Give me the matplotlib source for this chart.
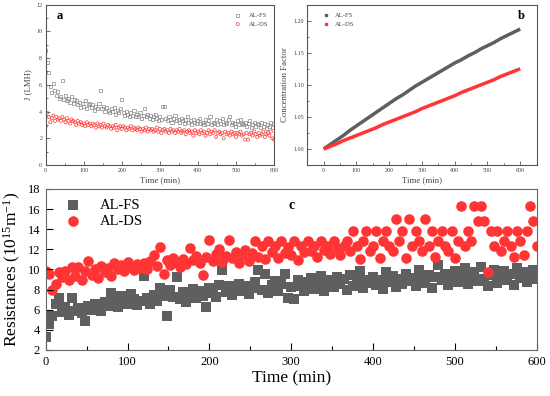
import numpy as np
import matplotlib
matplotlib.use("Agg")
import matplotlib.pyplot as plt
from matplotlib.ticker import MultipleLocator, FormatStrFormatter
from matplotlib.lines import Line2D

plt.rcParams['font.family'] = ['Liberation Serif']
plt.rcParams['mathtext.fontset'] = 'custom'
plt.rcParams['mathtext.rm'] = 'Liberation Serif'
plt.rcParams['mathtext.it'] = 'Liberation Serif:italic'

# time grid (min)
t = np.arange(0, 601, 4)

# (a) flux J (LMH)
j_fs = [8.6, 7.7, 6.9, 5.9, 5.4, 6.1, 5.6, 5.2, 5.5, 5.0,
        5.1, 6.3, 4.9, 5.2, 4.8, 5.0, 4.7, 5.1, 4.6, 4.9,
        4.8, 4.5, 4.7, 4.3, 4.6, 4.4, 4.8, 4.2, 4.5, 4.6,
        4.3, 4.5, 4.1, 4.4, 4.2, 4.6, 5.6, 4.2, 4.4, 4.0,
        4.3, 4.1, 3.9, 4.2, 4.0, 4.3, 3.8, 4.1, 3.9, 4.2,
        4.9, 3.9, 3.7, 4.0, 3.8, 3.6, 3.9, 3.7, 4.1, 3.6,
        3.8, 3.6, 3.9, 3.5, 3.7, 4.2, 3.6, 3.8, 3.5, 3.7,
        3.4, 3.6, 3.8, 3.5, 3.3, 3.6, 3.4, 4.4, 4.4, 3.5,
        3.3, 3.6, 3.4, 3.2, 3.5, 3.7, 3.3, 3.4, 3.2, 3.5,
        3.3, 3.1, 3.4, 3.6, 3.2, 3.3, 3.0, 3.4, 3.2, 3.1,
        3.3, 3.5, 3.1, 3.2, 3.0, 3.4, 3.1, 3.3, 3.6, 3.0,
        3.2, 3.1, 3.4, 3.0, 3.3, 3.1, 3.5, 3.0, 3.2, 3.1,
        3.4, 3.6, 3.0, 3.2, 3.1, 2.9, 3.3, 3.0, 3.4, 3.1,
        3.0, 3.2, 2.9, 3.1, 3.3, 2.8, 3.0, 3.2, 2.9, 3.1,
        3.0, 2.8, 3.2, 2.9, 3.1, 2.7, 3.0, 2.9, 3.2, 2.8,
        3.1]
j_ds = [2.9, 3.9, 3.6, 3.2, 3.5, 3.7, 3.3, 3.6, 3.4, 3.5,
        3.3, 3.6, 3.4, 3.2, 3.5, 3.3, 3.1, 3.4, 3.3, 3.2,
        3.0, 3.3, 3.1, 3.2, 3.0, 3.1, 2.9, 3.2, 3.0, 3.1,
        2.9, 3.1, 3.0, 2.8, 3.1, 2.9, 3.0, 2.8, 3.1, 2.9,
        2.8, 3.0, 2.9, 2.7, 2.9, 2.8, 3.0, 2.6, 2.8, 2.9,
        2.7, 2.9, 2.8, 2.6, 2.8, 2.7, 2.9, 2.6, 2.8, 2.7,
        2.6, 2.8, 2.7, 2.5, 2.7, 2.6, 2.8, 2.5, 2.7, 2.6,
        2.7, 2.5, 2.6, 2.8, 2.5, 2.7, 2.4, 2.6, 2.7, 2.5,
        2.6, 2.4, 2.7, 2.5, 2.6, 2.4, 2.6, 2.5, 2.7, 2.4,
        2.5, 2.6, 2.3, 2.5, 2.6, 2.4, 2.5, 2.2, 2.6, 2.4,
        2.5, 2.3, 2.6, 2.4, 2.5, 2.2, 2.4, 2.6, 2.3, 2.5,
        2.4, 2.6, 2.1, 2.4, 2.5, 2.3, 2.4, 2.0, 2.5, 2.3,
        2.4, 2.2, 2.5, 2.3, 2.4, 2.1, 2.4, 2.3, 2.5, 2.2,
        2.3, 1.9, 2.4, 1.9, 2.3, 2.4, 2.2, 2.5, 2.3, 2.1,
        2.4, 2.2, 2.3, 2.5, 2.1, 2.3, 2.4, 2.2, 2.5, 2.0,
        1.9]

# (b) concentration factor, every 20 min
t_cf = np.arange(0, 601, 20)
cf_fs = [1.000, 1.007, 1.014, 1.021, 1.029, 1.036, 1.043, 1.050, 1.057, 1.064,
         1.071, 1.078, 1.084, 1.091, 1.098, 1.104, 1.110, 1.116, 1.122, 1.128,
         1.134, 1.139, 1.145, 1.150, 1.156, 1.161, 1.166, 1.172, 1.177, 1.182,
         1.187]
cf_ds = [1.000, 1.004, 1.008, 1.013, 1.017, 1.021, 1.025, 1.029, 1.033, 1.038,
         1.042, 1.046, 1.050, 1.054, 1.058, 1.063, 1.067, 1.071, 1.075, 1.079,
         1.083, 1.088, 1.092, 1.096, 1.100, 1.104, 1.108, 1.113, 1.117, 1.121,
         1.125]

# (c) resistances (1e15 m^-1)
r_fs = [3.3, 4.6, 5.4, 6.6, 7.2, 5.8, 6.3, 5.5, 7.2, 5.9,
        6.2, 5.7, 4.9, 6.4, 6.0, 6.6, 6.3, 5.9, 6.8, 6.4,
        7.7, 6.9, 6.3, 7.4, 7.0, 6.6, 7.6, 7.1, 6.5, 6.9,
        9.4, 7.2, 6.6, 7.5, 6.9, 8.2, 7.4, 5.4, 8.0, 7.3,
        9.3, 7.1, 7.8, 6.8, 7.5, 8.1, 7.2, 7.9, 7.4, 6.3,
        8.2, 7.7, 7.3, 8.5, 9.9, 7.8, 8.4, 7.5, 8.1, 8.6,
        7.9, 8.4, 7.6, 8.2, 8.8, 9.9, 8.0, 9.6, 7.7, 8.5,
        8.9, 7.9, 8.6, 9.6, 7.2, 8.3, 7.1, 9.0, 8.4, 7.9,
        8.8, 9.2, 8.1, 8.7, 9.4, 7.9, 8.5, 9.0, 8.3, 9.3,
        8.6, 9.1, 8.0, 9.5, 8.4, 8.9, 9.8, 8.2, 9.0, 8.7,
        9.3, 8.5, 9.0, 8.1, 9.7, 8.8, 9.4, 8.3, 9.1, 8.6,
        9.6, 8.9, 9.2, 8.4, 9.9, 9.0, 8.7, 9.5, 8.2, 9.3,
        10.4, 9.0, 9.6, 8.5, 9.2, 9.8, 8.8, 9.4, 10.1, 8.6,
        9.3, 9.7, 8.9, 10.2, 9.1, 8.4, 9.5, 9.9, 8.7, 9.4,
        9.8, 9.0, 9.6, 8.5, 10.1, 9.2, 9.7, 8.8, 9.4, 9.9,
        9.1]
r_ds = [9.8, 9.6, 8.0, 8.6, 9.7, 9.3, 9.8, 9.0, 10.2, 9.4,
        10.2, 9.0, 9.8, 10.8, 9.5, 10.0, 9.2, 10.3, 9.7, 10.1,
        9.4, 10.6, 10.0, 10.4, 9.8, 10.7, 10.2, 9.9, 10.5, 10.1,
        10.6, 10.0, 10.8, 11.4, 10.3, 12.2, 9.6, 10.9, 10.4, 11.1,
        10.7, 10.2, 11.0, 10.5, 12.1, 10.9, 11.3, 10.6, 9.5, 11.2,
        12.9, 10.8, 11.5, 12.0, 10.7, 11.3, 12.9, 11.1, 11.7, 10.6,
        11.4, 11.9, 10.8, 11.6, 12.8, 11.2, 12.3, 11.0, 12.8, 11.7,
        12.3, 11.1, 12.8, 11.6, 12.2, 11.4, 12.8, 10.9, 12.3, 11.7,
        12.8, 11.8, 12.3, 11.2, 12.8, 11.9, 12.3, 11.5, 12.8, 12.1,
        11.4, 12.3, 12.8, 11.8, 13.8, 12.3, 11.0, 12.8, 13.8, 11.8,
        12.3, 13.8, 11.1, 12.8, 13.8, 12.3, 11.8, 15.0, 12.8, 13.8,
        11.1, 15.0, 12.3, 13.8, 12.8, 11.8, 15.0, 12.3, 13.8, 11.2,
        12.8, 13.8, 12.3, 11.8, 13.8, 11.1, 12.8, 16.3, 12.3, 13.8,
        12.8, 16.3, 14.8, 16.3, 14.8, 9.7, 13.8, 12.3, 13.8, 11.8,
        12.8, 13.8, 12.3, 11.2, 13.8, 12.8, 11.4, 13.8, 16.3, 14.8,
        12.3]

GRAY = '#5f5f5f'
RED = '#ff3535'
SMALL = 4.3
TXT = '#444444'

fig = plt.figure(figsize=(5.5, 3.96), dpi=100)
ax_a = fig.add_axes([0.0831, 0.5833, 0.415, 0.405])
ax_b = fig.add_axes([0.5587, 0.5833, 0.417, 0.405])
ax_c = fig.add_axes([0.0831, 0.1162, 0.8927, 0.4066])

# panel a
ax_a.scatter(t, j_fs, s=5, marker='s', facecolors='none', edgecolors='#8a8a8a',
             linewidths=0.5, label='AL-FS')
ax_a.scatter(t, j_ds, s=5, marker='o', facecolors='none', edgecolors='#ff3b3b',
             linewidths=0.5, label='AL-DS')
ax_a.set_xlim(0, 600)
ax_a.set_ylim(0, 12)
ax_a.xaxis.set_major_locator(MultipleLocator(100))
ax_a.xaxis.set_minor_locator(MultipleLocator(50))
ax_a.yaxis.set_major_locator(MultipleLocator(2))
ax_a.yaxis.set_minor_locator(MultipleLocator(1))
ax_a.set_xlabel('Time (min)', fontsize=6.3, color=TXT, labelpad=2)
ax_a.set_ylabel('J (LMH)', fontsize=6.3, color=TXT, labelpad=3)
ax_a.text(0.05, 0.93, 'a', transform=ax_a.transAxes, fontsize=9,
          fontweight='bold', ha='left', va='center')
ax_a.legend(loc='upper right', bbox_to_anchor=(1.0, 0.99), frameon=False,
            fontsize=SMALL + 0.5, handletextpad=0.6, labelspacing=0.5,
            labelcolor=TXT)

# panel b
ax_b.plot(t_cf, cf_fs, color=GRAY, lw=2.5, solid_capstyle='butt')
ax_b.plot(t_cf, cf_ds, color=RED, lw=2.5, solid_capstyle='butt')
ax_b.set_xlim(-50, 650)
ax_b.set_ylim(0.975, 1.225)
ax_b.xaxis.set_major_locator(MultipleLocator(100))
ax_b.xaxis.set_minor_locator(MultipleLocator(50))
ax_b.yaxis.set_major_locator(MultipleLocator(0.05))
ax_b.yaxis.set_minor_locator(MultipleLocator(0.025))
ax_b.yaxis.set_major_formatter(FormatStrFormatter('%.2f'))
ax_b.set_xlabel('Time (min)', fontsize=6.3, color=TXT, labelpad=2)
ax_b.set_ylabel('Concentration Factor', fontsize=6.3, color=TXT, labelpad=3)
ax_b.text(0.95, 0.93, 'b', transform=ax_b.transAxes, fontsize=9,
          fontweight='bold', ha='right', va='center')
handles_b = [Line2D([], [], ls='none', marker='s', ms=2, color=GRAY),
             Line2D([], [], ls='none', marker='s', ms=2, color=RED)]
ax_b.legend(handles_b, ['AL-FS', 'AL-DS'], loc='upper left',
            bbox_to_anchor=(0.04, 0.99), frameon=False, fontsize=SMALL + 0.5,
            handlelength=1, handletextpad=0.8, labelspacing=0.5, labelcolor=TXT)

for ax in (ax_a, ax_b):
    ax.tick_params(which='both', direction='in', labelsize=SMALL,
                   labelcolor=TXT, color='#555555', width=0.6, pad=2.5)
    ax.tick_params(which='major', length=3)
    ax.tick_params(which='minor', length=1.5)
    for sp in ax.spines.values():
        sp.set_color('#555555')
        sp.set_linewidth(0.8)

# panel c
ax_c.scatter(t, r_fs, s=46, marker='s', color=GRAY, linewidths=0, label='AL-FS')
ax_c.scatter(t, r_ds, s=58, marker='o', color=RED, linewidths=0, label='AL-DS')
ax_c.set_xlim(0, 600)
ax_c.set_ylim(2, 18)
ax_c.xaxis.set_major_locator(MultipleLocator(100))
ax_c.xaxis.set_minor_locator(MultipleLocator(50))
ax_c.yaxis.set_major_locator(MultipleLocator(2))
ax_c.tick_params(which='both', direction='in', labelsize=9, width=0.8, pad=4)
ax_c.tick_params(which='major', length=5)
ax_c.tick_params(which='minor', length=3)
for sp in ax_c.spines.values():
    sp.set_color('#666666')
ax_c.set_xlabel('Time (min)', fontsize=12.5, labelpad=2)
ax_c.set_ylabel('Resistances (10$^{15}$m$^{-1}$)', fontsize=12.5, labelpad=3)
ax_c.text(0.5, 0.9, 'c', transform=ax_c.transAxes, fontsize=10,
          fontweight='bold', ha='center', va='center')
ax_c.legend(loc='upper left', bbox_to_anchor=(0.0, 1.02), frameon=False,
            fontsize=10.5, handletextpad=0.8, labelspacing=0.2)

fig.savefig('out.png', dpi=100)
